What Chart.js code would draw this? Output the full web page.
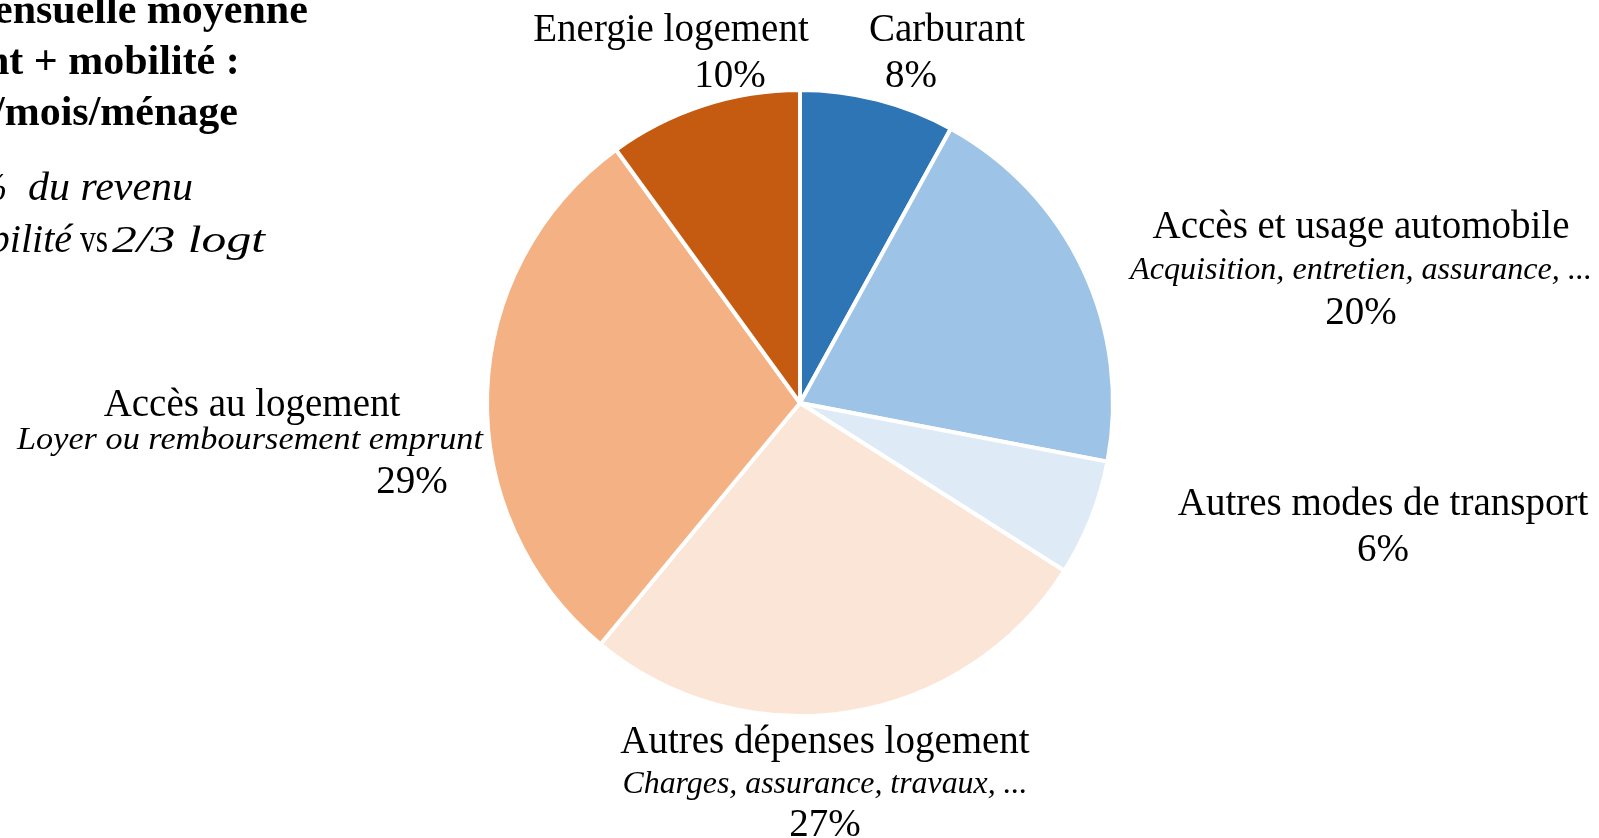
<!DOCTYPE html>
<html>
<head>
<meta charset="utf-8">
<script src="https://cdn.jsdelivr.net/npm/chart.js@4.4.1/dist/chart.umd.min.js"></script>
<style>
  html, body { margin: 0; padding: 0; background: #fff; }
  #wrap { width: 1599px; height: 838px; position: relative; overflow: hidden; }
</style>
</head>
<body>
<div id="wrap"><canvas id="pie"></canvas></div>
<script>
// slices, clockwise from 12 o'clock
const categories = ['Carburant', 'Accès et usage automobile', 'Autres modes de transport',
  'Autres dépenses logement', 'Accès au logement', 'Energie logement'];
const subLabels = ['', 'Acquisition, entretien, assurance, ...', '',
  'Charges, assurance, travaux, ...', 'Loyer ou remboursement emprunt', ''];
const shares = [8, 20, 6, 27, 29, 10];
const sliceColors = ['#2E75B6', '#9DC3E6', '#DEEBF7', '#FBE5D6', '#F4B183', '#C55A11'];

// where each label block sits, relative to the pie centre: [title, sub, pct] as [dx, dy] baselines
const labelSpots = [
  [[147, -362], null, [111, -316]],
  [[561, -165], [561, -124], [561, -79]],
  [[583, 112], null, [583, 158]],
  [[25, 350], [25, 390], [25, 433]],
  [[-548, 13], [-550, 46], [-388, 90]],
  [[-129, -362], null, [-70, -316]]
];
// the source uses a wider italic face; stretch sub-labels to its widths
const subWidths = [0, 462, 0, 405, 466, 0];

const SERIF = '"Liberation Serif", "Times New Roman", serif';

// draw text squeezed/stretched horizontally to a given width
function fitText(ctx, text, x, y, width, align) {
  const w = ctx.measureText(text).width;
  const k = width ? width / w : 1;
  let left = x;
  if (align === 'center') left = x - w * k / 2;
  if (align === 'right') left = x - w * k;
  ctx.save();
  ctx.textAlign = 'left';
  ctx.translate(left, y);
  ctx.scale(k, 1);
  ctx.fillText(text, 0, 0);
  ctx.restore();
}

const outsideLabels = {
  id: 'outsideLabels',
  afterDraw(chart) {
    const ctx = chart.ctx;
    const arc = chart.getDatasetMeta(0).data[0];
    const cx = arc.x, cy = arc.y;
    ctx.save();
    ctx.fillStyle = '#000';
    ctx.textAlign = 'center';
    ctx.textBaseline = 'alphabetic';
    categories.forEach((name, i) => {
      const spot = labelSpots[i];
      ctx.font = '39px ' + SERIF;
      ctx.fillText(name, cx + spot[0][0], cy + spot[0][1]);
      if (spot[1] && subLabels[i]) {
        ctx.font = 'italic 32px ' + SERIF;
        fitText(ctx, subLabels[i], cx + spot[1][0], cy + spot[1][1], subWidths[i], 'center');
      }
      ctx.font = '39px ' + SERIF;
      ctx.fillText(shares[i] + '%', cx + spot[2][0], cy + spot[2][1]);
    });

    // title block, cut off by the left edge like the source
    ctx.textAlign = 'left';
    ctx.font = 'bold 42px ' + SERIF;
    ctx.fillText('ensuelle moyenne', -6, 23);
    ctx.fillText('nt + mobilité :', -14, 74);
    ctx.fillText('/mois/ménage', -7, 125);

    ctx.font = 'italic 40px ' + SERIF;
    ctx.fillText('%', -26, 200);
    fitText(ctx, 'du revenu', 28, 200, 165, 'left');
    fitText(ctx, 'bilité', 72, 252, 0, 'right');
    ctx.font = '42px ' + SERIF;
    fitText(ctx, 'vs', 80, 252, 28, 'left');
    ctx.font = 'italic 38px ' + SERIF;
    fitText(ctx, '2/3 logt', 112, 252, 153, 'left');
    ctx.restore();
  }
};

new Chart(document.getElementById('pie'), {
  type: 'pie',
  data: {
    labels: categories,
    datasets: [{
      data: shares,
      backgroundColor: sliceColors,
      borderColor: '#ffffff',
      borderWidth: 4
    }]
  },
  options: {
    responsive: true,
    maintainAspectRatio: false,
    animation: false,
    layout: { padding: { top: 88, bottom: 120, left: 485, right: 484 } },
    plugins: {
      legend: { display: false },
      tooltip: { enabled: false }
    }
  },
  plugins: [outsideLabels]
});
</script>
</body>
</html>
